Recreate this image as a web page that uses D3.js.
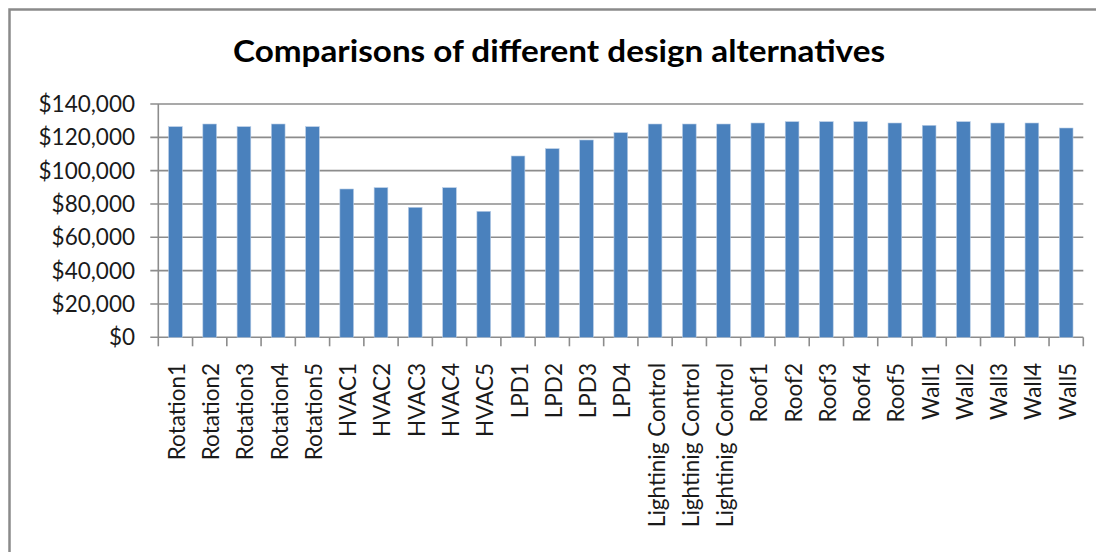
<!DOCTYPE html>
<html>
<head>
<meta charset="utf-8">
<script src="https://cdn.jsdelivr.net/npm/d3@7"></script>
<style>
  html, body { margin: 0; padding: 0; background: #fff; }
  svg { display: block; }
</style>
</head>
<body>
<svg id="chart" width="1096" height="552"></svg>
<script>
const categories = [
  "Rotation1","Rotation2","Rotation3","Rotation4","Rotation5",
  "HVAC1","HVAC2","HVAC3","HVAC4","HVAC5",
  "LPD1","LPD2","LPD3","LPD4",
  "Lightinig Control","Lightinig Control ","Lightinig Control  ",
  "Roof1","Roof2","Roof3","Roof4","Roof5",
  "Wall1","Wall2","Wall3","Wall4","Wall5"
];
const costs = [
  126400,128000,126400,128000,126400,
  89000,89800,78000,89800,75600,
  108800,113200,118400,122800,
  128000,128000,128000,
  128600,129400,129400,129400,128600,
  127200,129400,128600,128600,125600
];
const yTicks = [0,20000,40000,60000,80000,100000,120000,140000];
const titleText = "Comparisons of different design alternatives";

const svg = d3.select("#chart");
const font = "Lato, 'Open Sans', sans-serif";

// outer chart border
svg.append("rect")
  .attr("x", 9.5).attr("y", 9.5)
  .attr("width", 1100).attr("height", 560)
  .attr("fill", "none").attr("stroke", "#8a8a8a").attr("stroke-width", 2.5);

const pLeft = 158.3, pRight = 1083.3, pTop = 104, pBottom = 337.3;

const x = d3.scaleBand().domain(categories).range([pLeft, pRight])
  .paddingInner(0.6).paddingOuter(0.3);
const y = d3.scaleLinear().domain([0, 140000]).range([pBottom, pTop]);

// gridlines
svg.append("g").selectAll("line").data(yTicks).join("line")
  .attr("x1", pLeft - 8).attr("x2", pRight)
  .attr("y1", d => y(d)).attr("y2", d => y(d))
  .attr("stroke", "#8c8c8c").attr("stroke-width", 1.6);

// y axis line
svg.append("line")
  .attr("x1", pLeft).attr("x2", pLeft).attr("y1", pTop).attr("y2", pBottom)
  .attr("stroke", "#8c8c8c").attr("stroke-width", 1.6);

// x tick marks at category boundaries
const step = x.step();
const bounds = d3.range(categories.length + 1).map(i => pLeft + i * step);
svg.append("g").selectAll("line").data(bounds).join("line")
  .attr("x1", d => d).attr("x2", d => d)
  .attr("y1", pBottom).attr("y2", pBottom + 9)
  .attr("stroke", "#8c8c8c").attr("stroke-width", 1.6);

// bars
svg.append("g").selectAll("rect").data(costs).join("rect")
  .attr("x", (d, i) => x(categories[i]))
  .attr("y", d => y(d))
  .attr("width", x.bandwidth())
  .attr("height", d => pBottom - y(d))
  .attr("fill", "#4a81bd")
  .attr("stroke", "#b9cde6").attr("stroke-width", 0.6);

// y labels
const fmt = d => "$" + d3.format(",")(d);
svg.append("g").selectAll("text").data(yTicks).join("text")
  .attr("x", 135).attr("y", d => y(d))
  .attr("dy", "0.36em")
  .attr("text-anchor", "end")
  .attr("font-family", font).attr("font-size", 22.5)
  .attr("fill", "#1a1a1a")
  .text(fmt);

// x labels (rotated)
svg.append("g").selectAll("text").data(categories).join("text")
  .attr("transform", d => `translate(${x(d) + x.bandwidth() / 2 + 9.5},363) rotate(-90)`)
  .attr("text-anchor", "end")
  .attr("font-family", font).attr("font-size", 22.5)
  .attr("fill", "#1a1a1a")
  .text(d => d.trim());

// title
svg.append("text")
  .attr("x", 559).attr("y", 61.5)
  .attr("text-anchor", "middle")
  .attr("font-family", font).attr("font-size", 31).attr("font-weight", "bold")
  .attr("textLength", 652).attr("lengthAdjust", "spacingAndGlyphs")
  .attr("fill", "#000")
  .text(titleText);
</script>
</body>
</html>
